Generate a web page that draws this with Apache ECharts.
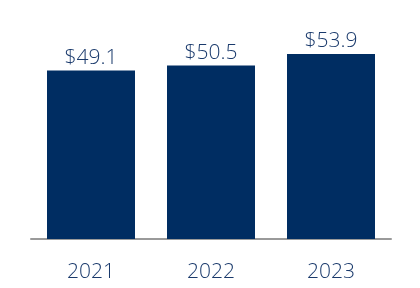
<!DOCTYPE html>
<html><head><meta charset="utf-8">
<script src="https://cdn.jsdelivr.net/npm/echarts@6/dist/echarts.min.js"></script>
<style>html,body{margin:0;padding:0;background:#fff}#c{width:420px;height:288px}</style>
</head><body><div id="c"></div>
<script>
const categories = ['2021', '2022', '2023'];
const values = [49.1, 50.5, 53.9];
const labels = ['$49.1', '$50.5', '$53.9'];
const chart = echarts.init(document.getElementById('c'), null, {renderer: 'canvas'});
chart.setOption({
  animation: false,
  grid: {left: 31, right: 29, top: 33, bottom: 49},
  xAxis: {
    type: 'category', data: categories,
    axisLine: {lineStyle: {color: '#9a9a9a', width: 2}},
    axisTick: {show: false},
    axisLabel: {color: '#1a3a6c', fontSize: 21, fontWeight: 300, margin: 23, fontFamily: 'Open Sans'}
  },
  yAxis: {type: 'value', min: 0, max: 60, show: false, splitLine: {show: false}},
  series: [{
    type: 'bar', barWidth: 88,
    data: values,
    itemStyle: {color: '#002d62'},
    label: {show: true, position: 'top', distance: 2, color: '#1a3a6c', fontSize: 21, fontWeight: 300, fontFamily: 'Open Sans',
      formatter: p => labels[p.dataIndex]}
  }]
});
</script></body></html>
